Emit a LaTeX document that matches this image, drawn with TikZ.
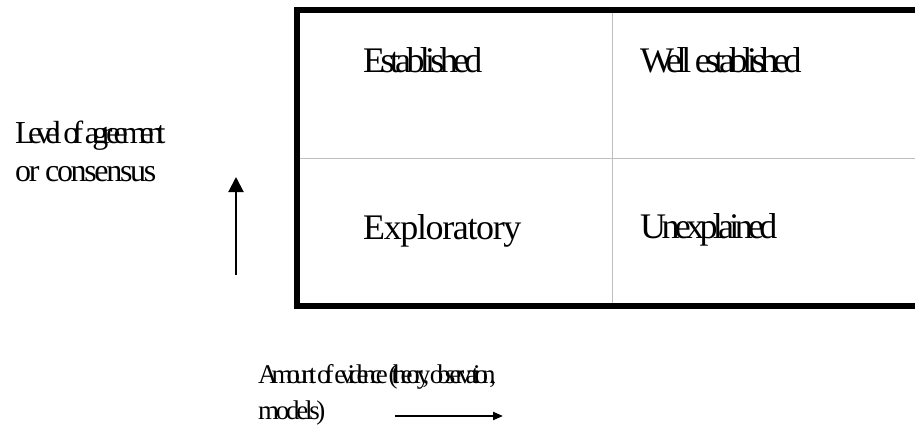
\documentclass[tikz,border=0pt]{standalone}
\usepackage{fontspec}
\setmainfont{Liberation Serif}
\usetikzlibrary{arrows.meta}

\tikzset{
  cell/.style={anchor=base west,inner sep=0pt,font=\fontsize{36}{43}\selectfont\addfontfeature{LetterSpace=#1}},
  axislabel/.style={anchor=base west,inner sep=0pt,font=\fontsize{32}{38}\selectfont\addfontfeature{LetterSpace=#1}},
  evidencelabel/.style={anchor=base west,inner sep=0pt,font=\fontsize{27}{32}\selectfont\addfontfeature{LetterSpace=#1}},
  divider/.style={draw=black!25,line width=1pt}
}

\begin{document}
\begin{tikzpicture}[x=1pt,y=-1pt]
                \useasboundingbox (0,0) rectangle (915,426);

                % Box
                \draw[line width=6pt,line join=miter] (915,10) -- (297,10) -- (297,306) -- (915,306);
                \draw[divider] (612,13) -- (612,303);
                \draw[divider] (300,158) -- (915,158);

                % Cells
                \node[cell=-13] (established) at (363,72.5) {Established};
                \node[cell=-14.8] (wellest) at (640,72) {Well established};
                \node[cell=-3.8] (exploratory) at (363,239) {Exploratory};
                \node[cell=-13] (unexplained) at (640,238) {Unexplained};

                % Labels
                \node[axislabel=-20.5] (agree1) at (15,143) {Level of agreement};
                \node[axislabel=-7.3] (agree2) at (15,181) {or consensus};
                \node[evidencelabel=-22.4] (evid1) at (258,383) {Amount of evidence (theory, observation,};
                \node[evidencelabel=-12.2] (evid2) at (258,419) {models)};

                % Arrows
                \coordinate (upfrom) at (236,275);
                \coordinate (upto) at (236,177);
                \coordinate (rightfrom) at (395,416);
                \coordinate (rightto) at (503,416);
                \draw[line width=2pt,-{Triangle[length=15pt,width=15pt]}] (upfrom) -- (upto);
                \draw[line width=2pt,-{Triangle[length=10pt,width=8pt]}] (rightfrom) -- (rightto);
            \end{tikzpicture}
\end{document}
